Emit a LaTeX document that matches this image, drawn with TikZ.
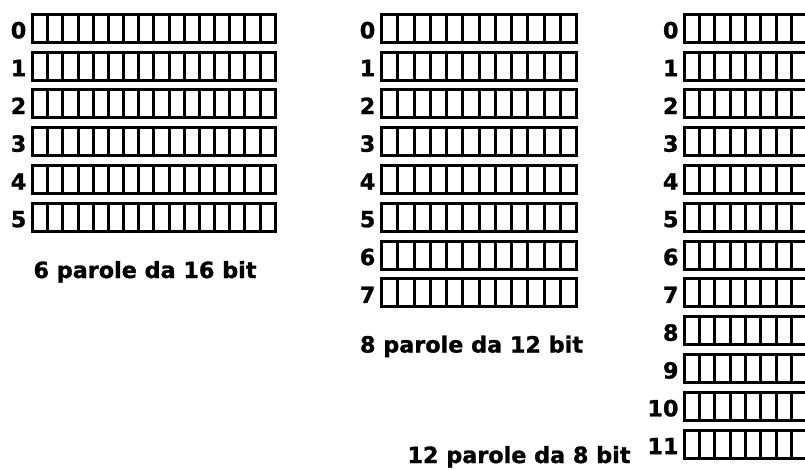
\documentclass[tikz,border=0pt]{standalone}
\usepackage{fontspec}
\setmainfont{DejaVu Sans}[BoldFeatures={FakeBold=1.2}]
\usetikzlibrary{positioning,calc}
\newcommand{\memfont}{\bfseries\fontsize{22.3}{26}\selectfont}

\begin{document}
\begin{tikzpicture}[x=1pt,y=-1pt,
  word/.style={draw,line width=3pt,inner sep=0pt,outer sep=0pt,minimum height=28pt,anchor=north west},
  addr/.style={font=\memfont,inner sep=0pt,yshift=-2pt},
  caption/.style={font=\memfont,inner sep=0pt,anchor=base}]
\useasboundingbox (0,0) rectangle (805,469);

% 6 parole da 16 bit
\foreach \i in {0,...,5} {
  \node[word,minimum width=242.7pt] (A\i) at (32.5,{14.2+37.8*\i}) {};
  \foreach \k in {1,...,15}
    \draw[line width=3pt] ($(A\i.north west)!\k/16!(A\i.north east)$) -- ($(A\i.south west)!\k/16!(A\i.south east)$);
  \node[addr,left=6pt of A\i] (A\i n) {\i};
}
\node[caption] (capA) at (145,278) {6 parole da 16 bit};

% 8 parole da 12 bit
\foreach \i in {0,...,7} {
  \node[word,minimum width=195.3pt] (B\i) at (381.5,{14.2+37.8*\i}) {};
  \foreach \k in {1,...,11}
    \draw[line width=3pt] ($(B\i.north west)!\k/12!(B\i.north east)$) -- ($(B\i.south west)!\k/12!(B\i.south east)$);
  \node[addr,left=6pt of B\i] (B\i n) {\i};
}
\node[caption] (capB) at (471.5,352.5) {8 parole da 12 bit};

% 12 parole da 8 bit
\foreach \i in {0,...,11} {
  \node[word,minimum width=122.4pt] (C\i) at (684.2,{14.2+37.8*\i}) {};
  \foreach \k in {1,...,7}
    \draw[line width=3pt] ($(C\i.north west)!\k/8!(C\i.north east)$) -- ($(C\i.south west)!\k/8!(C\i.south east)$);
  \node[addr,left=5.5pt of C\i] (C\i n) {\i};
}
\node[caption] (capC) at (519,463) {12 parole da 8 bit};
\end{tikzpicture}
\end{document}
